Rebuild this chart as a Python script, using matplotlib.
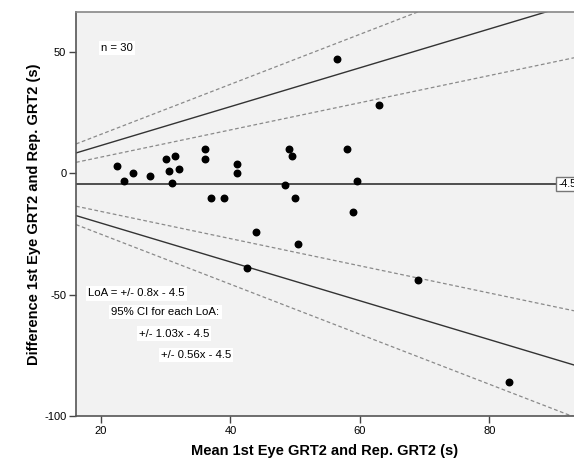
import numpy as np
import matplotlib.pyplot as plt

plt.rcParams['font.family'] = ['Liberation Sans', 'DejaVu Sans']
plt.rcParams['axes.unicode_minus'] = False

# mean of the two measurements (x) and their difference (y)
mean_vals = [22.5, 23.5, 25, 27.5, 30, 30.5, 31, 31.5, 32, 36, 36, 37, 39, 41, 41,
             48.5, 49, 49.5, 50, 56.5, 63, 58, 59.5, 59, 44, 50.5, 42.5, 69, 83]
diff_vals = [3, -3, 0, -1, 6, 1, -4, 7, 2, 10, 6, -10, -10, 4, 0,
             -5, 10, 7, -10, 47, 28, 10, -3, -16, -24, -29, -39, -44, -86]
bias = -4.5
loa_slope = 0.8
ci_slopes = [1.03, 0.56]

fig = plt.figure(figsize=(5.74, 4.58), dpi=100)
ax = fig.add_axes([76/574, 42/458, 498/574, 404/458])
ax.set_facecolor('#f2f2f2')

xmin, xmax = 16.13, 93.1
xs = np.array([xmin, xmax])

#bias line
ax.plot(xs, [bias, bias], color='#222222', lw=1.1, zorder=2)
#limits of agreement
for sgn in (1, -1):
    ax.plot(xs, bias + sgn*loa_slope*xs, color='#333333', lw=1.0, zorder=2)
    for s in ci_slopes:
        ax.plot(xs, bias + sgn*s*xs, color='#8a8a8a', lw=0.9,
                linestyle=(0, (3, 2)), zorder=2)

ax.scatter(mean_vals, diff_vals, s=22, color='black', zorder=3)

ax.set_xlim(xmin, xmax)
ax.set_ylim(-100, 66.5)
ax.set_xticks([20, 40, 60, 80])
ax.set_yticks([-100, -50, 0, 50])
ax.tick_params(labelsize=8, length=5, width=1, color='#444444', pad=2)

for side in ['left', 'bottom']:
    ax.spines[side].set_color('#555555')
    ax.spines[side].set_linewidth(1.2)
ax.spines['top'].set_color('#888888')
ax.spines['top'].set_linewidth(1.2)
ax.spines['right'].set_visible(False)

ax.set_xlabel('Mean 1st Eye GRT2 and Rep. GRT2 (s)', fontsize=10.5, fontweight='bold', labelpad=6)
ax.set_ylabel('Difference 1st Eye GRT2 and Rep. GRT2 (s)', fontsize=10.5, fontweight='bold', labelpad=2)

box = dict(facecolor='white', edgecolor='none', pad=1.5)
ax.text(20.0, 51.5, 'n = 30', fontsize=8.2, va='center', bbox=box)
ax.text(18.0, -49.5, 'LoA = +/- 0.8x - 4.5', fontsize=8.2, va='center', bbox=box)
ax.text(21.6, -57.3, '95% CI for each LoA:', fontsize=8.2, va='center', bbox=box)
ax.text(25.8, -66.0, '+/- 1.03x - 4.5', fontsize=8.2, va='center', bbox=box)
ax.text(29.2, -75.0, '+/- 0.56x - 4.5', fontsize=8.2, va='center', bbox=box)

# value label of the bias line, cut off at the right edge
ax.text(90.7, bias, '-4.5', fontsize=7.5, va='center', ha='left', clip_on=False,
        bbox=dict(facecolor='white', edgecolor='#777777', pad=1.5, lw=1))

fig.savefig('out.png', dpi=100)
